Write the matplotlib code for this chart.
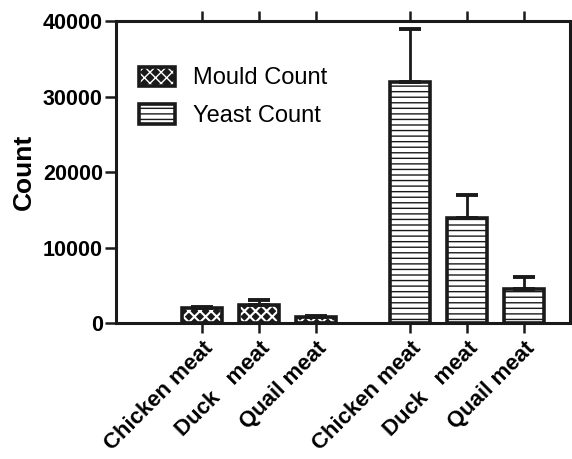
import numpy as np
import matplotlib
matplotlib.use("Agg")
import matplotlib.pyplot as plt
from matplotlib.patches import Rectangle

plt.rcParams['font.family'] = ['Liberation Sans', 'DejaVu Sans']

# data
meats = ['Chicken meat', 'Duck   meat', 'Quail meat']
mould_mean = [1950, 2450, 800]
mould_err = [150, 600, 200]
yeast_mean = [32000, 13900, 4500]
yeast_err = [7000, 3100, 1600]

fig = plt.figure(figsize=(5.72, 4.59), dpi=100)
ax = fig.add_axes([0.203, 0.296, 0.794, 0.658])

gap = 1.65
x_mould = np.arange(len(meats))
x_yeast = x_mould + len(meats) - 1 + gap
width = 0.70
ink = '#1a1a1a'
zeros = np.zeros(len(meats))
checker = 'xxx'
checker_lw = 1.5

# mould bars: black fill, white diagonal hatch -> checker look, black outline
with plt.rc_context({'hatch.linewidth': checker_lw}):
    ax.bar(x_mould, mould_mean, width, color=ink, linewidth=0, zorder=2)
    ax.bar(x_mould, mould_mean, width, color='none', edgecolor='white',
           linewidth=0, hatch=checker, zorder=2.1)
ekw = dict(elinewidth=2.0, capthick=2.8, ecolor=ink)
ax.bar(x_mould, mould_mean, width, yerr=[zeros, mould_err], capsize=8,
       color='none', edgecolor=ink, linewidth=2.6, error_kw=ekw, zorder=3)

with plt.rc_context({'hatch.linewidth': 1.0}):
    y_bars = ax.bar(x_yeast, yeast_mean, width, yerr=[zeros, yeast_err], capsize=8,
                    color='white', edgecolor=ink, linewidth=2.6, hatch='---',
                    error_kw=ekw, zorder=3)

ax.set_xlim(-1.51, 6.46)
ax.set_ylim(0, 40000)
ax.set_yticks([0, 10000, 20000, 30000, 40000])
ax.set_xticks(np.concatenate([x_mould, x_yeast]))
ax.set_xticklabels(meats + meats, rotation=45, ha='right', rotation_mode='anchor',
                   fontsize=16, fontweight='bold')
for lab in ax.get_yticklabels():
    lab.set_fontweight('bold')
    lab.set_fontsize(15.5)
ax.set_ylabel('Count', fontsize=19, fontweight='bold', labelpad=5)

for s in ax.spines.values():
    s.set_linewidth(2.2)
    s.set_color(ink)
ax.tick_params(axis='x', top=True, bottom=True, direction='out', length=7, width=1.8,
               color=ink, pad=3.5)
ax.tick_params(axis='x', labeltop=False)
ax.tick_params(axis='y', left=True, right=False, direction='out', length=8, width=1.8,
               color=ink, pad=1.5)

# legend handles: overlay the three mould layers into one key
with plt.rc_context({'hatch.linewidth': checker_lw}):
    k_fill = Rectangle((0, 0), 1, 1, facecolor=ink, linewidth=0)
    k_hatch = Rectangle((0, 0), 1, 1, facecolor='none', edgecolor='white', linewidth=0, hatch=checker)
k_edge = Rectangle((0, 0), 1, 1, facecolor='none', edgecolor=ink, linewidth=2.6)
ax.legend([(k_fill, k_hatch, k_edge), y_bars], ['Mould Count', 'Yeast Count'],
          loc='upper left', bbox_to_anchor=(0.003, 0.92), frameon=False,
          fontsize=17, handlelength=1.55, handleheight=0.9, labelspacing=0.62,
          handletextpad=0.75)

fig.savefig('out.png', dpi=100)
